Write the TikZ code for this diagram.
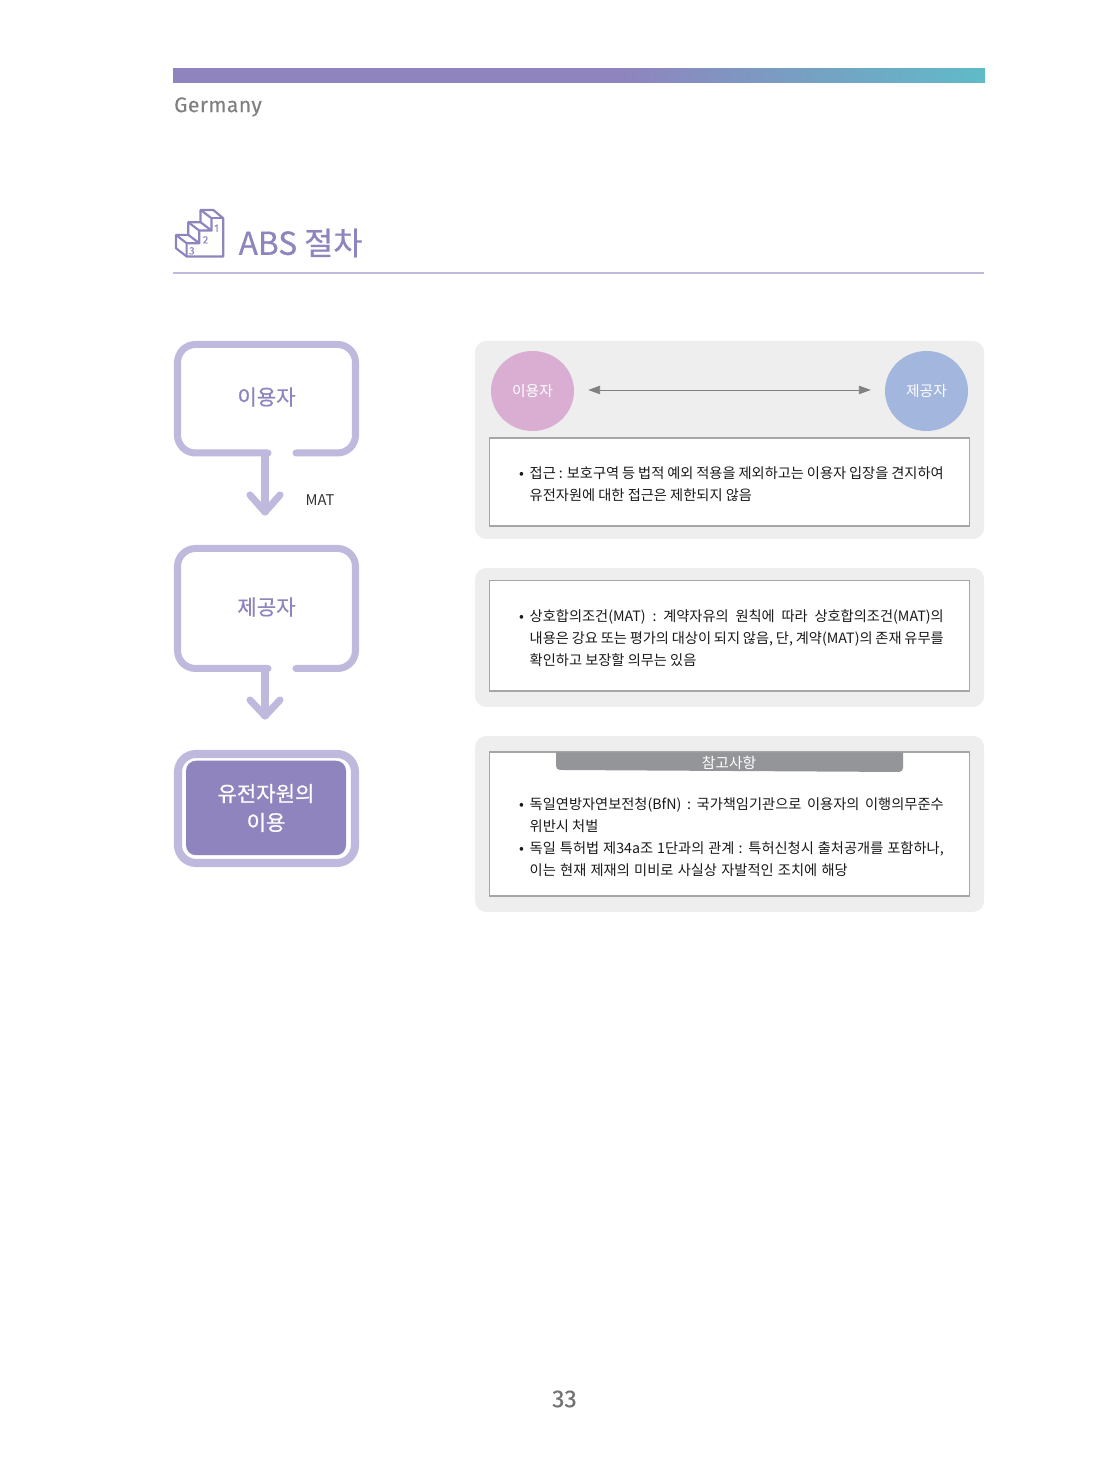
\documentclass[tikz,border=0pt]{standalone}
\usepackage{fontspec}
\usepackage{xcolor}
\usetikzlibrary{arrows.meta,shapes.geometric}
\setmainfont{Noto Sans CJK KR}
\newfontfamily\medfont[FakeBold=0.6]{Noto Sans CJK KR}
\newfontfamily\headfont[LetterSpace=2,FakeBold=0.3]{Fira Sans}
\newfontfamily\numfont[FakeBold=0.4]{Fira Sans}
\definecolor{barpurple}{HTML}{8F84BE}
\definecolor{barteal}{HTML}{5FBBC8}
\definecolor{linepurple}{HTML}{BFB9DE}
\definecolor{panelgrey}{HTML}{EEEEEE}
\definecolor{tabgrey}{HTML}{939598}
\definecolor{userpink}{HTML}{D9AED2}
\definecolor{giverblue}{HTML}{A3B6DE}
\tikzset{
	panel/.style={fill=panelgrey, rounded corners=0.11cm},
	whitebox/.style={draw=black!35, line width=0.3pt, fill=white},
	flowline/.style={draw=linepurple, line width=2pt, line cap=round, rounded corners=0.18cm},
	flowarrow/.style={draw=linepurple, line width=2pt, line cap=round, line join=round},
	bodytext/.style={anchor=north west, inner sep=0, align=left, text=black!90, font=\fontsize{4.05pt}{6.26pt}\selectfont},
	bullet/.style={anchor=center, inner sep=0, text=black!90, font=\fontsize{4.05pt}{6.26pt}\selectfont},
	flowlabel/.style={inner sep=0, text=barpurple, font=\medfont\fontsize{6pt}{8pt}\selectfont},
	partycircle/.style={ellipse, minimum width=0.83cm, minimum height=0.8cm, inner sep=0, text=white, font=\fontsize{4.2pt}{6pt}\selectfont},
	stairline/.style={draw=barpurple, line width=0.62pt, line join=round},
	stairnum/.style={inner sep=0, text=barpurple, font=\numfont\fontsize{3pt}{3pt}\selectfont},
}
\newcommand\fitline[2][4.14cm]{\hbox to #1{#2}}
\begin{document}
\begin{tikzpicture}
	\useasboundingbox (0,0) rectangle (11,14.76);

	% head of the page
	\shade[left color=barpurple, right color=barpurple] (1.73,13.93) rectangle (6.2,14.075);
	\shade[left color=barpurple, right color=barteal] (6.2,13.93) rectangle (9.85,14.075);
	\node[anchor=west, inner sep=0, text=black!50] (country) at (1.735,13.69) {\headfont\fontsize{6pt}{7pt}\selectfont Germany};

	% stairs
	\begin{scope}[shift={(1.6,12.86)}, x=0.00333cm, y=-0.00333cm]
		\draw[stairline] (80,200) -- (190,200) -- (190,85) -- (160,60) -- (122,60) -- (122,97) -- (85,97) -- (85,135) -- (48,135) -- (48,175) -- cycle;
		\draw[stairline] (48,135) -- (80,160) -- (80,200);
		\draw[stairline] (80,160) -- (118,160) -- (85,135);
		\draw[stairline] (118,160) -- (118,122) -- (85,97);
		\draw[stairline] (118,122) -- (155,122) -- (122,97);
		\draw[stairline] (155,122) -- (155,85) -- (122,60);
		\draw[stairline] (155,85) -- (190,85);
		\node[stairnum] (stepone) at (170,115) {1};
		\node[stairnum] (steptwo) at (137,150) {2};
		\node[stairnum] (stepthree) at (96,183) {3};
	\end{scope}

	\node[anchor=west, inner sep=0, text=barpurple] (title) at (2.38,12.33) {\medfont\fontsize{9pt}{10pt}\selectfont ABS 절차};
	\draw[draw=linepurple, line width=0.45pt] (1.73,12.03) -- (9.84,12.03);

	% flow on the left
	\draw[flowline] (2.68,10.23) -- (1.775,10.23) -- (1.775,11.315) -- (3.555,11.315) -- (3.555,10.23) -- (2.96,10.23);
	\node[flowlabel] (userstep) at (2.665,10.79) {이용자};
	\coordinate (userfoot) at (2.65,10.23);
	\coordinate (usertip) at (2.65,9.64);
	\draw[flowarrow] (userfoot) -- (usertip);
	\draw[flowarrow] (2.5,9.81) -- (usertip) -- (2.8,9.81);
	\node[inner sep=0, text=black!80, font=\fontsize{4.2pt}{5pt}\selectfont] (mat) at (3.2,9.755) {MAT};

	\draw[flowline] (2.68,8.075) -- (1.775,8.075) -- (1.775,9.275) -- (3.555,9.275) -- (3.555,8.075) -- (2.96,8.075);
	\node[flowlabel] (giverstep) at (2.665,8.69) {제공자};
	\coordinate (giverfoot) at (2.65,8.075);
	\coordinate (givertip) at (2.65,7.6);
	\draw[flowarrow] (giverfoot) -- (givertip);
	\draw[flowarrow] (2.5,7.76) -- (givertip) -- (2.8,7.76);

	\draw[draw=linepurple, line width=2.3pt, fill=white, rounded corners=0.18cm] (1.78,6.13) rectangle (3.55,7.22);
	\node[fill=barpurple, rounded corners=0.1cm, minimum width=1.6cm, minimum height=0.945cm, inner sep=0, align=center, text=white, font=\medfont\fontsize{6pt}{8.2pt}\selectfont] (usebox) at (2.66,6.68) {유전자원의\\이용};

	% first panel
	\fill[panel] (4.75,9.37) rectangle (9.84,11.35);
	\node[partycircle, fill=userpink] (user) at (5.325,10.85) {이용자};
	\node[partycircle, fill=giverblue] (giver) at (9.265,10.85) {제공자};
	\draw[{Triangle[length=3.4pt,width=2.4pt]}-{Triangle[length=3.4pt,width=2.4pt]}, draw=black!50, line width=0.25pt, shorten <=0.135cm, shorten >=0.135cm, transform canvas={yshift=0.01cm}] (user) -- (giver);
	\draw[whitebox] (4.895,9.5) rectangle (9.695,10.38);
	\node[bullet] (dotone) at (5.215,10.01) {•};
	\node[bodytext] (access) at (5.29,10.1) {\fitline{접근 : 보호구역 등 법적 예외 적용을 제외하고는 이용자 입장을 견지하여}\\유전자원에 대한 접근은 제한되지 않음};

	% second panel
	\fill[panel] (4.75,7.69) rectangle (9.84,9.08);
	\draw[whitebox] (4.895,7.85) rectangle (9.695,8.955);
	\node[bullet] (dottwo) at (5.215,8.58) {•};
	\node[bodytext] (terms) at (5.29,8.67) {\fitline{상호합의조건(MAT) : 계약자유의 원칙에 따라 상호합의조건(MAT)의}\\\fitline{내용은 강요 또는 평가의 대상이 되지 않음, 단, 계약(MAT)의 존재 유무를}\\확인하고 보장할 의무는 있음};

	% third panel
	\fill[panel] (4.75,5.64) rectangle (9.84,7.4);
	\draw[whitebox] (4.895,5.8) rectangle (9.695,7.24);
	\fill[tabgrey] (5.56,7.235) -- (5.56,7.1) arc [radius=0.04, start angle=180, end angle=270] -- (8.99,7.04) arc [radius=0.04, start angle=270, end angle=360] -- (9.03,7.235) -- cycle;
	\node[inner sep=0, text=white, font=\fontsize{4.2pt}{5pt}\selectfont] (notetab) at (7.29,7.135) {참고사항};
	\node[bullet] (dotthree) at (5.215,6.70) {•};
	\node[bullet] (dotfour) at (5.215,6.26) {•};
	\node[bodytext] (notes) at (5.29,6.79) {\fitline{독일연방자연보전청(BfN) : 국가책임기관으로 이용자의 이행의무준수}\\위반시 처벌\\\fitline{독일 특허법 제34a조 1단과의 관계 : 특허신청시 출처공개를 포함하나,}\\\fitline[3.18cm]{이는 현재 제재의 미비로 사실상 자발적인 조치에 해당}};

	% page number
	\node[inner sep=0, text=black!55] (pagenum) at (5.645,0.77) {\numfont\fontsize{7pt}{8pt}\selectfont 33};
\end{tikzpicture}
\end{document}
